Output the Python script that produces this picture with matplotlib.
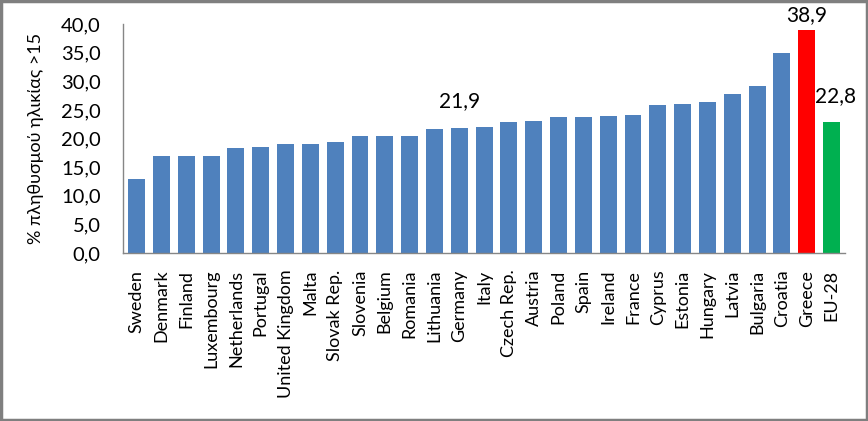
import matplotlib
matplotlib.use("Agg")
import matplotlib.pyplot as plt
from matplotlib.patches import Rectangle

countries = ["Sweden", "Denmark", "Finland", "Luxembourg", "Netherlands", "Portugal",
             "United Kingdom", "Malta", "Slovak Rep.", "Slovenia", "Belgium", "Romania",
             "Lithuania", "Germany", "Italy", "Czech Rep.", "Austria", "Poland", "Spain",
             "Ireland", "France", "Cyprus", "Estonia", "Hungary", "Latvia", "Bulgaria",
             "Croatia", "Greece", "EU-28"]
values = [12.9, 16.9, 16.9, 16.9, 18.3, 18.5, 19.0, 19.0, 19.4, 20.4, 20.4, 20.4,
          21.7, 21.9, 22.0, 22.9, 23.1, 23.8, 23.8, 23.9, 24.1, 25.9, 26.0, 26.4,
          27.8, 29.2, 34.9, 38.9, 22.8]
labelled = {"Germany": "21,9", "Greece": "38,9", "EU-28": "22,8"}
yticks = [0, 5, 10, 15, 20, 25, 30, 35, 40]
ylabel = "% πληθυσμού ηλικίας >15"

plt.rcParams['font.family'] = ['Lato', 'DejaVu Sans']

colors = []
for c in countries:
    if c == "Greece":
        colors.append("#FF0000")
    elif c == "EU-28":
        colors.append("#00B050")
    else:
        colors.append("#4F81BD")

fig = plt.figure(figsize=(8.68, 4.21), dpi=100)
ax = fig.add_axes([0.1417, 0.399, 0.832, 0.544])
x = list(range(len(countries)))
ax.bar(x, values, width=0.68, color=colors, zorder=2)
ax.set_xlim(-0.55, len(countries) - 0.45)
ax.set_ylim(0, 40)
ax.set_yticks(yticks)
ax.set_yticklabels([f"{v:.1f}".replace(".", ",") for v in yticks], fontsize=14.5)
ax.set_xticks(x)
ax.set_xticklabels(countries, rotation=90, fontsize=13)
ax.tick_params(axis="y", length=0, pad=16)
ax.tick_params(axis="x", length=0, pad=12)
for s in ["top", "right"]:
    ax.spines[s].set_visible(False)
for s in ["left", "bottom"]:
    ax.spines[s].set_color("#868686")
    ax.spines[s].set_linewidth(1)
ax.set_ylabel(ylabel, fontsize=13, labelpad=12)

for i, c in enumerate(countries):
    if c in labelled:
        ax.annotate(labelled[c], (i, values[i]), xytext=(0 if c != "EU-28" else 3, 4 if c == "Greece" else 12),
                    textcoords="offset points", ha="center", va="bottom", fontsize=15)

fig.patches.append(Rectangle((0.0015, 0.002), 0.997, 0.995, transform=fig.transFigure,
                             fill=False, edgecolor="#7f7f7f", linewidth=2.5))
fig.savefig("out.png", dpi=100)
